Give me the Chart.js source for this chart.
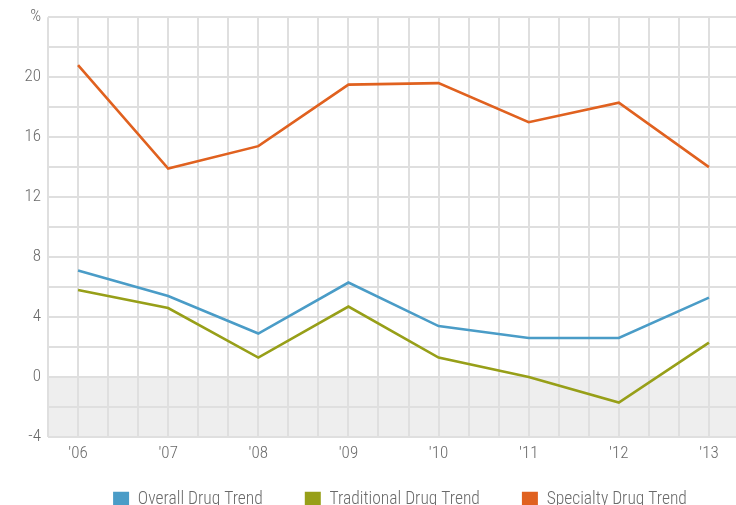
<!DOCTYPE html>
<html>
<head>
<meta charset="utf-8">
<script src="https://cdn.jsdelivr.net/npm/chart.js@4/dist/chart.umd.min.js"></script>
<style>
  html, body { margin: 0; padding: 0; overflow: hidden; background: #fff; }
  #wrap { width: 736px; height: 505px; }
  #c { display: block; }
</style>
</head>
<body>
<div id="wrap"><canvas id="c" width="736" height="505"></canvas></div>
<script>
// Year-over-year drug trend, percent
const years = ["'06", "'07", "'08", "'09", "'10", "'11", "'12", "'13"];
const overallTrend = [7.1, 5.4, 2.9, 6.3, 3.4, 2.6, 2.6, 5.3];
const traditionalTrend = [5.8, 4.6, 1.3, 4.7, 1.3, 0.0, -1.7, 2.3];
const specialtyTrend = [20.8, 13.9, 15.4, 19.5, 19.6, 17.0, 18.3, 14.0];
const seriesNames = ['Overall Drug Trend', 'Traditional Drug Trend', 'Specialty Drug Trend'];
const yLabelValues = [-4, 0, 4, 8, 12, 16, 20];
const yUnitLabel = '%';

const Y_MIN = -4, Y_MAX = 24, Y_GRID_STEP = 2;
const X_GRID_DIVISIONS = 3;           // grid lines per year
const X_AXIS_HEIGHT = 30;
const LEGEND_HEIGHT = 38;             // legend row sits at the very bottom edge
const LEGEND_PADDING = 42;            // spacing between legend items
const LEGEND_ROW_TOP = 24;            // distance from legend top to the row
const LEGEND_SHIFT_X = 8;
const FONT = "'Liberation Sans Narrow', 'Arial Narrow', 'Roboto Condensed', 'DejaVu Sans Condensed', sans-serif";
const TEXT = '#6a6a6a';
const GRID = '#dfdfdf';
const colors = ['#4a9cc7', '#979f18', '#e0611f'];

const toPoints = arr => arr.map((v, i) => ({ x: i, y: v }));

// Light band under the zero line
const negativeBand = {
  id: 'negativeBand',
  beforeDraw(chart) {
    const { ctx, chartArea: a, scales: { y } } = chart;
    const top = y.getPixelForValue(0);
    const bottom = y.getPixelForValue(Y_MIN);
    ctx.save();
    ctx.fillStyle = '#eeeeee';
    ctx.fillRect(a.left, top, a.right - a.left, bottom - top);
    ctx.restore();
  }
};

// Fixed legend height, with the row drawn nearer the top than the item padding
const legendPlacement = {
  id: 'legendPlacement',
  beforeLayout(chart) {
    const lg = chart.legend;
    if (lg && !lg._placed) {
      const fit = lg.fit.bind(lg);
      const drawItems = lg._draw.bind(lg);
      lg.fit = function () { fit(); this.height = LEGEND_HEIGHT; };
      lg._draw = function () {
        const ctx = this.ctx;
        ctx.save();
        ctx.translate(LEGEND_SHIFT_X, LEGEND_ROW_TOP - LEGEND_PADDING);
        drawItems();
        ctx.restore();
      };
      lg._placed = true;
    }
  }
};

new Chart(document.getElementById('c'), {
  type: 'line',
  data: {
    datasets: [overallTrend, traditionalTrend, specialtyTrend].map((arr, i) => ({
      label: seriesNames[i],
      data: toPoints(arr),
      borderColor: colors[i],
      backgroundColor: colors[i],
      borderWidth: 2.6,
      pointRadius: 0,
      tension: 0,
      fill: false,
      borderJoinStyle: 'miter'
    }))
  },
  plugins: [negativeBand, legendPlacement],
  options: {
    responsive: false,
    animation: false,
    devicePixelRatio: 1,
    layout: { padding: { top: 16, left: 0, right: 0, bottom: 0 } },
    plugins: {
      tooltip: { enabled: false },
      legend: {
        position: 'bottom',
        fullSize: false,
        labels: {
          boxWidth: 16,
          boxHeight: 16,
          padding: LEGEND_PADDING,
          color: TEXT,
          font: { family: FONT, size: 17.5, weight: 300 },
          generateLabels(chart) {
            return chart.data.datasets.map((ds, i) => ({
              text: ds.label,
              fillStyle: ds.borderColor,
              strokeStyle: ds.borderColor,
              lineWidth: 0,
              fontColor: TEXT,
              hidden: false,
              datasetIndex: i
            }));
          }
        }
      }
    },
    scales: {
      x: {
        type: 'linear',
        min: -1 / X_GRID_DIVISIONS,
        max: 7.3,
        afterBuildTicks(scale) {
          const ticks = [];
          for (let k = -1; k <= (years.length - 1) * X_GRID_DIVISIONS; k++) {
            ticks.push({ value: k / X_GRID_DIVISIONS });
          }
          scale.ticks = ticks;
        },
        afterFit(scale) { scale.height = X_AXIS_HEIGHT; },
        grid: { color: GRID, lineWidth: 2, drawTicks: false },
        border: { display: false },
        ticks: {
          autoSkip: false,
          maxRotation: 0,
          padding: 7,
          color: TEXT,
          font: { family: FONT, size: 17, weight: 300 },
          callback(value) {
            const r = Math.round(value);
            return Math.abs(value - r) < 1e-6 && years[r] !== undefined ? years[r] : '';
          }
        }
      },
      y: {
        min: Y_MIN,
        max: Y_MAX,
        afterBuildTicks(scale) {
          const ticks = [];
          for (let v = Y_MIN; v <= Y_MAX; v += Y_GRID_STEP) ticks.push({ value: v });
          scale.ticks = ticks;
        },
        afterFit(scale) { scale.width = 48; },
        grid: { color: GRID, lineWidth: 2, drawTicks: false },
        border: { display: false },
        ticks: {
          padding: 7,
          color: TEXT,
          font: { family: FONT, size: 17, weight: 300 },
          callback(value) {
            if (value === Y_MAX) return yUnitLabel;
            return yLabelValues.includes(value) ? String(value) : '';
          }
        }
      }
    }
  }
});
</script>
</body>
</html>
